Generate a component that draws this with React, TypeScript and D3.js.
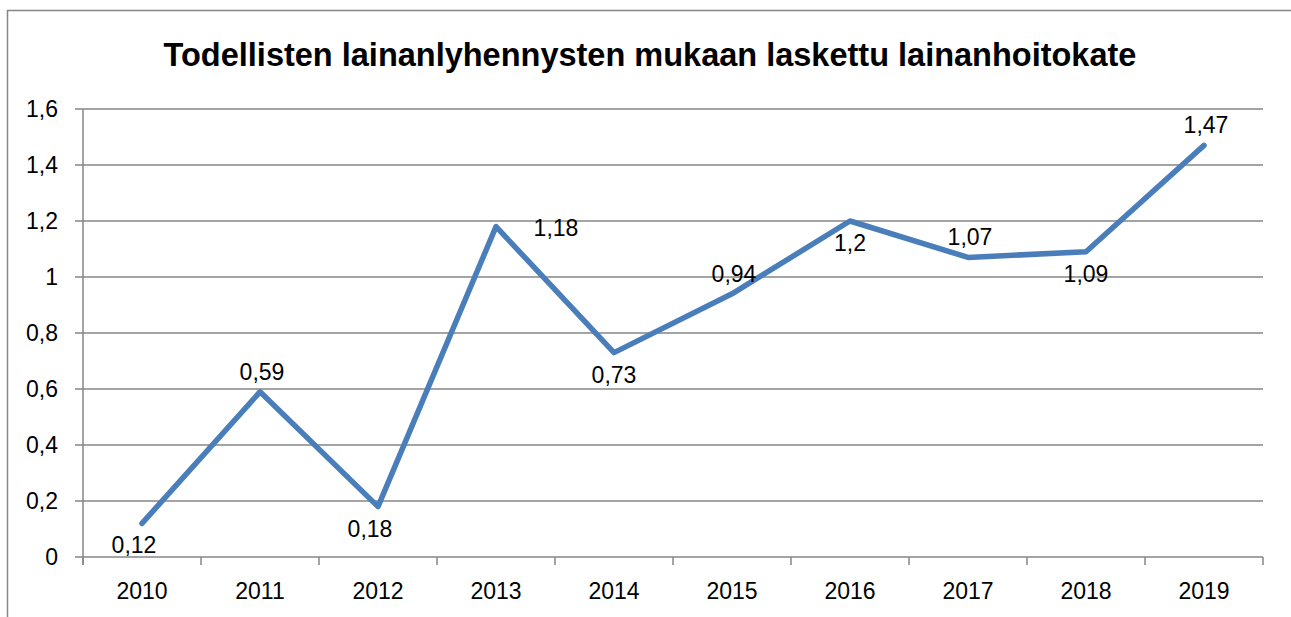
import React from "react";
import * as d3 from "d3";

const title = "Todellisten lainanlyhennysten mukaan laskettu lainanhoitokate";
const years = ["2010", "2011", "2012", "2013", "2014", "2015", "2016", "2017", "2018", "2019"];
const values = [0.12, 0.59, 0.18, 1.18, 0.73, 0.94, 1.2, 1.07, 1.09, 1.47];
const labelPlacement = ["belowLeft", "above", "belowLeft", "right", "below", "above", "below", "above", "below", "above"];
const yTicks = [0, 0.2, 0.4, 0.6, 0.8, 1, 1.2, 1.4, 1.6];

const W = 1291;
const H = 617;
const left = 83;
const right = 1263;
const top = 109;
const bottom = 557;
const font = "'Liberation Sans', Arial, sans-serif";
const fmt = (v: number) => String(v).replace(".", ",");

export default function App() {
  const x = d3.scaleBand<string>().domain(years).range([left, right]);
  const y = d3.scaleLinear().domain([0, 1.6]).range([bottom, top]);
  const cx = (i: number) => (x(years[i]) as number) + x.bandwidth() / 2;
  const line = d3
    .line<number>()
    .x((_, i) => cx(i))
    .y((d) => y(d));
  const boundaries = years.map((yr) => x(yr) as number).concat([right]);

  const labelPos = (i: number) => {
    const px = cx(i);
    const py = y(values[i]);
    switch (labelPlacement[i]) {
      case "above":
        return { lx: px + 2, ly: py - 12 };
      case "below":
        return { lx: px, ly: py + 30 };
      case "belowLeft":
        return { lx: px - 8, ly: py + 30 };
      case "right":
        return { lx: px + 60, ly: py + 9 };
      default:
        return { lx: px, ly: py };
    }
  };

  return (
    <svg
      width={W}
      height={H}
      style={{ position: "absolute", left: 0, top: 0, background: "#fff" }}
    >
      <rect x={7.5} y={10.5} width={1300} height={700} fill="#fff" stroke="#868686" strokeWidth={1.5} />
      <text
        x={650}
        y={66}
        textAnchor="middle"
        fontFamily={font}
        fontWeight="bold"
        fontSize={32.5}
        fill="#000"
      >
        {title}
      </text>
      {yTicks.map((t) => (
        <g key={t}>
          <line x1={left - 8} x2={right} y1={y(t)} y2={y(t)} stroke="#868686" strokeWidth={1.5} />
          <text
            x={58}
            y={y(t) + 8}
            textAnchor="end"
            fontFamily={font}
            fontSize={23}
            fill="#000"
          >
            {fmt(t)}
          </text>
        </g>
      ))}
      <line x1={left} x2={left} y1={top} y2={bottom + 8} stroke="#868686" strokeWidth={1.5} />
      {boundaries.map((b, i) => (
        <line key={i} x1={b} x2={b} y1={bottom} y2={bottom + 8} stroke="#868686" strokeWidth={1.5} />
      ))}
      {years.map((yr, i) => (
        <text
          key={yr}
          x={cx(i)}
          y={599}
          textAnchor="middle"
          fontFamily={font}
          fontSize={23}
          fill="#000"
        >
          {yr}
        </text>
      ))}
      <path
        d={line(values) || ""}
        fill="none"
        stroke="#4a7ebb"
        strokeWidth={5.5}
        strokeLinejoin="round"
        strokeLinecap="round"
      />
      {values.map((v, i) => {
        const { lx, ly } = labelPos(i);
        return (
          <text
            key={i}
            x={lx}
            y={ly}
            textAnchor="middle"
            fontFamily={font}
            fontSize={23}
            fill="#000"
          >
            {fmt(v)}
          </text>
        );
      })}
    </svg>
  );
}
